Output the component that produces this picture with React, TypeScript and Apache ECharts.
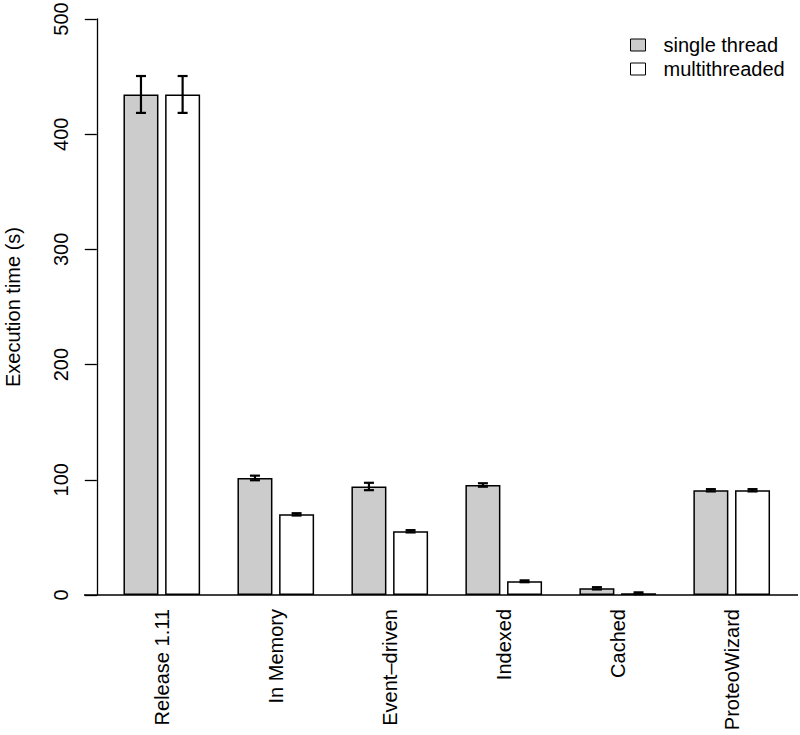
import React, { useEffect, useRef } from "react";
import * as echarts from "echarts";

const categories = ["Release 1.11", "In Memory", "Event\u2013driven", "Indexed", "Cached", "ProteoWizard"];
const singleThread = [434.5, 101.6, 94.2, 95.5, 5.8, 90.9];
const multiThread = [434.5, 70.0, 55.3, 11.9, 1.5, 90.9];
const singleErr = [16, 2, 3.2, 1.5, 1, 1];
const multiErr = [16, 1, 1, 0.8, 0.8, 1];
const yTicks = { min: 0, max: 500, interval: 100 };

const FONT = "'Liberation Sans', Arial, Helvetica, sans-serif";
const BAR_W = 35;
const BAR_GAP = 0.19;
const OFFSET = (BAR_W + BAR_W * BAR_GAP) / 2;

function errSeries(name: string, means: number[], errs: number[], dx: number) {
  return {
    type: "custom",
    name: name + " err",
    silent: true,
    z: 5,
    data: means.map((m, i) => [i, m, errs[i]]),
    renderItem: (params: any, api: any) => {
      const i = api.value(0);
      const m = api.value(1);
      const e = api.value(2);
      const top = api.coord([i, m + e]);
      const bot = api.coord([i, m - e]);
      const x = top[0] + dx;
      const cap = 5;
      const style = { stroke: "#000", lineWidth: 2.2 };
      return {
        type: "group",
        children: [
          { type: "line", shape: { x1: x, y1: top[1], x2: x, y2: bot[1] }, style },
          { type: "line", shape: { x1: x - cap, y1: top[1], x2: x + cap, y2: top[1] }, style },
          { type: "line", shape: { x1: x - cap, y1: bot[1], x2: x + cap, y2: bot[1] }, style },
        ],
      };
    },
  };
}

export default function App() {
  const ref = useRef<HTMLDivElement>(null);
  useEffect(() => {
    if (!ref.current) return;
    const chart = echarts.init(ref.current, null, { renderer: "svg" });
    chart.setOption({
      animation: false,
      backgroundColor: "#ffffff",
      textStyle: { fontFamily: FONT },
      grid: { left: 104.8, right: 11.3, top: 19, bottom: 140, containLabel: false, outerBoundsMode: "none" },
      legend: {
        orient: "vertical",
        left: 630,
        top: 35,
        padding: 0,
        icon: "rect",
        itemWidth: 15,
        itemHeight: 12,
        itemGap: 4,
        data: ["single thread", "multithreaded"],
        itemStyle: { borderColor: "#000", borderWidth: 1 },
        textStyle: { fontSize: 20, color: "#000", fontFamily: FONT, padding: [0, 0, 0, 13] },
      },
      xAxis: {
        type: "category",
        data: categories,
        axisLine: { show: false },
        axisTick: { show: false },
        axisLabel: { rotate: 90, fontSize: 20, color: "#000", margin: 14, fontFamily: FONT, interval: 0 },
      },
      yAxis: {
        type: "value",
        min: yTicks.min,
        max: yTicks.max,
        interval: yTicks.interval,
        offset: 8,
        name: "Execution time (s)",
        nameLocation: "middle",
        nameRotate: 90,
        nameGap: 74,
        nameTextStyle: { fontSize: 20, color: "#000", fontFamily: FONT },
        splitLine: { show: false },
        axisLine: { show: true, lineStyle: { color: "#000", width: 1.3 } },
        axisTick: { show: true, length: 12, lineStyle: { color: "#000", width: 1.3 } },
        axisLabel: { rotate: 90, fontSize: 20, color: "#000", margin: 26, fontFamily: FONT },
      },
      series: [
        {
          type: "bar",
          name: "single thread",
          data: singleThread,
          barWidth: BAR_W,
          barGap: BAR_GAP * 100 + "%",
          itemStyle: { color: "#cccccc", borderColor: "#000", borderWidth: 1.5 },
        },
        {
          type: "bar",
          name: "multithreaded",
          data: multiThread,
          barWidth: BAR_W,
          barGap: BAR_GAP * 100 + "%",
          itemStyle: { color: "#ffffff", borderColor: "#000", borderWidth: 1.5 },
        },
        errSeries("single thread", singleThread, singleErr, -OFFSET),
        errSeries("multithreaded", multiThread, multiErr, OFFSET),
      ],
    });
    const y0 = chart.convertToPixel({ yAxisIndex: 0 }, 0) as number;
    chart.setOption({
      graphic: [
        {
          type: "line",
          z: 10,
          shape: { x1: 84, y1: y0, x2: 798, y2: y0 },
          style: { stroke: "#000", lineWidth: 1.5 },
        },
      ],
    });
    return () => chart.dispose();
  }, []);
  return <div ref={ref} style={{ position: "fixed", left: 0, top: 0, width: 800, height: 735 }} />;
}
